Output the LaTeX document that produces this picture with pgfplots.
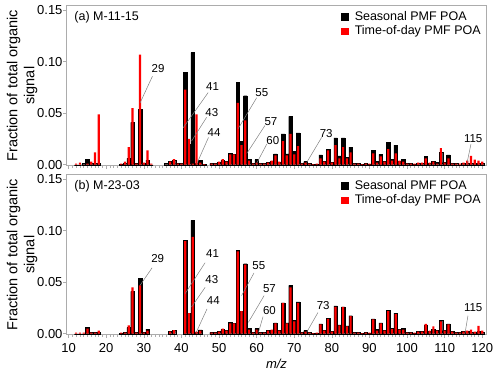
\documentclass[border=0pt]{standalone}
\usepackage{pgfplots}
\pgfplotsset{compat=1.18}
\usepackage{pgfplotstable}
\usepackage{fontspec}
\setmainfont{Liberation Sans}

% panel (a) M-11-15: m/z, seasonal PMF POA, time-of-day PMF POA
\pgfplotstableread{
mz seas tod
12 0 0.001
13 0 0.002
14 0.001 0
15 0.0055 0.001
16 0.001 0.003
17 0.001 0.012
18 0.001 0.049
24 0.0005 0.001
25 0.001 0.003
26 0.006 0.017
27 0.041 0.055
28 0.001 0.001
29 0.054 0.107
30 0.001 0.002
31 0.0045 0.014
32 0 0.001
36 0.001 0
37 0.003 0.003
38 0.004 0.0055
39 0.001 0.001
40 0.001 0.001
41 0.090 0.073
42 0.020 0.025
43 0.109 0.001
44 0.001 0.049
45 0.004 0.002
46 0.0005 0.0005
48 0.001 0.001
49 0.001 0.001
50 0.002 0.003
51 0.004 0.0055
52 0.003 0.003
53 0.011 0.010
54 0.010 0.010
55 0.080 0.060
56 0.0225 0.019
57 0.067 0.043
58 0.005 0.004
59 0.001 0.001
60 0.005 0.002
61 0.001 0.001
62 0.001 0.001
63 0.002 0.002
64 0.003 0.004
65 0.0105 0.009
66 0.002 0.003
67 0.030 0.023
68 0.0105 0.009
69 0.047 0.030
70 0.013 0.010
71 0.031 0.018
72 0.001 0.001
73 0.003 0.002
74 0.001 0.001
75 0.0005 0.0005
76 0.0005 0.001
77 0.0095 0.006
78 0.003 0.003
79 0.015 0.014
80 0.002 0.002
81 0.026 0.019
82 0.0085 0.006
83 0.026 0.017
84 0.007 0.006
85 0.017 0.012
86 0.001 0.001
87 0.001 0.001
88 0.0005 0.0005
89 0.001 0.001
90 0.0005 0.001
91 0.014 0.011
92 0.003 0.002
93 0.010 0.008
94 0.003 0.003
95 0.022 0.015
96 0.005 0.004
97 0.019 0.011
98 0.003 0.004
99 0.005 0.003
100 0.001 0.001
101 0.001 0.001
102 0.0005 0.001
103 0.001 0.002
104 0.001 0.002
105 0.008 0.006
106 0.001 0.002
107 0.003 0.003
108 0.002 0.001
109 0.012 0.016
110 0.002 0.002
111 0.0095 0.006
112 0.001 0.001
113 0.001 0.001
114 0 0.001
115 0.001 0.002
116 0.001 0.004
117 0.001 0.0085
118 0.001 0.005
119 0.001 0.004
120 0.001 0.003
}\tabA

% panel (b) M-23-03
\pgfplotstableread{
mz seas tod
12 0 0.001
13 0 0.001
14 0 0.001
15 0.006 0.005
16 0.001 0.001
17 0.001 0.001
18 0.001 0.003
24 0.0005 0.001
25 0.001 0.001
26 0.006 0.008
27 0.041 0.045
28 0.001 0.001
29 0.054 0.047
30 0.001 0.001
31 0.0045 0.003
37 0.002 0.002
38 0.003 0.0035
41 0.091 0.090
42 0.020 0.020
43 0.110 0.094
44 0.001 0.002
45 0.0036 0.003
48 0.001 0.001
49 0.001 0.001
50 0.002 0.002
51 0.004 0.005
52 0.003 0.003
53 0.011 0.010
54 0.010 0.010
55 0.081 0.080
56 0.022 0.022
57 0.068 0.067
58 0.005 0.004
59 0.001 0.001
60 0.005 0.004
61 0.001 0.001
62 0.001 0.001
63 0.003 0.003
64 0.003 0.004
65 0.0105 0.010
66 0.003 0.003
67 0.030 0.030
68 0.0105 0.010
69 0.047 0.045
70 0.0127 0.012
71 0.031 0.030
72 0.001 0.001
73 0.003 0.002
74 0.001 0.001
75 0.0005 0.0005
76 0.0005 0.001
77 0.0095 0.009
78 0.003 0.003
79 0.015 0.0145
80 0.002 0.002
81 0.027 0.026
82 0.0085 0.008
83 0.026 0.026
84 0.0075 0.007
85 0.0175 0.017
86 0.001 0.001
87 0.001 0.001
88 0.0005 0.0005
89 0.001 0.001
90 0.0005 0.001
91 0.0143 0.014
92 0.004 0.003
93 0.0105 0.010
94 0.003 0.003
95 0.023 0.022
96 0.005 0.0045
97 0.020 0.019
98 0.004 0.004
99 0.005 0.004
100 0.001 0.001
101 0.001 0.001
102 0.0005 0.001
103 0.002 0.002
104 0.002 0.002
105 0.0085 0.0095
106 0.002 0.003
107 0.004 0.007
108 0.003 0.003
109 0.0127 0.012
110 0.003 0.003
111 0.0095 0.009
112 0.002 0.002
113 0.001 0.001
114 0.001 0.001
115 0.002 0.002
116 0.002 0.003
117 0.001 0.004
118 0.001 0.002
119 0.002 0.0075
120 0.001 0.003
}\tabB

\tikzset{
  lead/.style={gray, line width=0.5pt},
  lab/.style={font=\fontsize{11.5}{13}\selectfont, inner sep=1pt},
}
\pgfplotsset{
  msaxis/.style={
    scale only axis, width=419pt, height=160pt,
    xmin=9.57, xmax=121.0, ymin=-0.001, ymax=0.1545,
    axis line style={gray!65, line width=1pt},
    xtick={10,20,...,120}, minor x tick num=9,
    ytick={0,0.05,0.10,0.15},
    xtick pos=bottom, ytick pos=left,
    tick align=outside,
    major tick length=3.5pt, minor tick length=2.5pt,
    every tick/.style={gray!65, line width=0.6pt},
    tick label style={font=\fontsize{13}{15}\selectfont, black},
    /pgf/number format/assume math mode=true,
    yticklabel style={xshift=2.5pt, /pgf/number format/.cd, fixed, fixed zerofill, precision=2},
    xticklabel style={yshift=-2pt},
    ylabel={Fraction of total organic\\signal},
    every axis y label/.style={at={(axis description cs:-0.107,0.5)}, rotate=90, anchor=center, align=center, font=\fontsize{14.5}{17}\selectfont},
    legend style={at={(0.995,0.985)}, anchor=north east, draw=none, fill=none,
      font=\fontsize{12.5}{14}\selectfont, row sep=0pt, inner sep=1pt,
      /tikz/every odd column/.append style={column sep=5pt}},
    legend cell align=left,
  },
  seas/.style={ybar, bar width=3.6pt, bar shift=0pt, fill=black, draw=black, line width=0.3pt, forget plot},
  tod/.style={ybar, bar width=2.2pt, bar shift=0pt, fill=red, draw=none, forget plot},
}

\begin{document}
\begin{tikzpicture}
\begin{axis}[msaxis, name=top, xticklabels={}]
\addplot[seas] table[x=mz, y=seas] {\tabA};
\addplot[tod] table[x=mz, y=tod] {\tabA};
\addlegendimage{only marks, mark=square*, mark size=3.2pt, black}
\addlegendentry{Seasonal PMF POA}
\addlegendimage{only marks, mark=square*, mark size=3.2pt, red}
\addlegendentry{Time-of-day PMF POA}
\node[anchor=west, inner sep=0pt, font=\fontsize{12.5}{14}\selectfont] at (axis cs:11.5,0.143) {(a) M-11-15};
\draw[lead] (axis cs:32.3,0.086) -- (axis cs:29,0.060);
\node[lab] at (axis cs:33.8,0.093) {29};
\draw[lead] (axis cs:47.1,0.070) -- (axis cs:40.5,0.036);
\node[lab] at (axis cs:48.3,0.076) {41};
\draw[lead] (axis cs:46.7,0.046) -- (axis cs:42.7,0.023);
\node[lab] at (axis cs:48.1,0.051) {43};
\draw[lead] (axis cs:47.2,0.0265) -- (axis cs:44.1,0.001);
\node[lab] at (axis cs:48.7,0.031) {44};
\draw[lead] (axis cs:60.0,0.065) -- (axis cs:55.1,0.035);
\node[lab] at (axis cs:61.4,0.070) {55};
\draw[lead] (axis cs:62.2,0.038) -- (axis cs:57.4,0.011);
\node[lab] at (axis cs:63.8,0.042) {57};
\draw[lead] (axis cs:62.7,0.020) -- (axis cs:60.0,0.0013);
\node[lab] at (axis cs:64.3,0.023) {60};
\draw[lead] (axis cs:77.3,0.0265) -- (axis cs:73.3,0.002);
\node[lab] at (axis cs:78.5,0.030) {73};
\draw[lead] (axis cs:117.0,0.020) -- (axis cs:115.9,0.0007);
\node[lab] at (axis cs:117.6,0.025) {115};
\end{axis}

\begin{axis}[msaxis, name=bottom, at={(top.south west)}, yshift=-9pt, anchor=north west,
  xlabel={\textit{m/z}}, xlabel style={font=\fontsize{13}{15}\selectfont, yshift=1pt}]
\addplot[seas] table[x=mz, y=seas] {\tabB};
\addplot[tod] table[x=mz, y=tod] {\tabB};
\addlegendimage{only marks, mark=square*, mark size=3.2pt, black}
\addlegendentry{Seasonal PMF POA}
\addlegendimage{only marks, mark=square*, mark size=3.2pt, red}
\addlegendentry{Time-of-day PMF POA}
\node[anchor=west, inner sep=0pt, font=\fontsize{12.5}{14}\selectfont] at (axis cs:11.5,0.143) {(b) M-23-03};
\draw[lead] (axis cs:32.2,0.064) -- (axis cs:29,0.047);
\node[lab] at (axis cs:33.7,0.073) {29};
\draw[lead] (axis cs:46.3,0.069) -- (axis cs:41,0.039);
\node[lab] at (axis cs:48.3,0.078) {41};
\draw[lead] (axis cs:46.3,0.045) -- (axis cs:42.7,0.026);
\node[lab] at (axis cs:48.1,0.053) {43};
\draw[lead] (axis cs:46.8,0.024) -- (axis cs:43.9,0.001);
\node[lab] at (axis cs:48.5,0.032) {44};
\draw[lead] (axis cs:59.3,0.059) -- (axis cs:56.0,0.037);
\node[lab] at (axis cs:60.6,0.066) {55};
\draw[lead] (axis cs:62.0,0.037) -- (axis cs:57.8,0.011);
\node[lab] at (axis cs:63.4,0.044) {57};
\draw[lead] (axis cs:61.7,0.0166) -- (axis cs:60.5,0.0013);
\node[lab] at (axis cs:63.4,0.022) {60};
\draw[lead] (axis cs:76.3,0.0205) -- (axis cs:73.3,0.0013);
\node[lab] at (axis cs:77.7,0.027) {73};
\draw[lead] (axis cs:116.2,0.0176) -- (axis cs:115.4,0.0);
\node[lab] at (axis cs:117.6,0.025) {115};
\end{axis}

\pgfresetboundingbox
\path ([shift={(-67pt,5.7pt)}]top.north west) rectangle ([shift={(14pt,-37pt)}]bottom.south east);
\end{tikzpicture}
\end{document}
